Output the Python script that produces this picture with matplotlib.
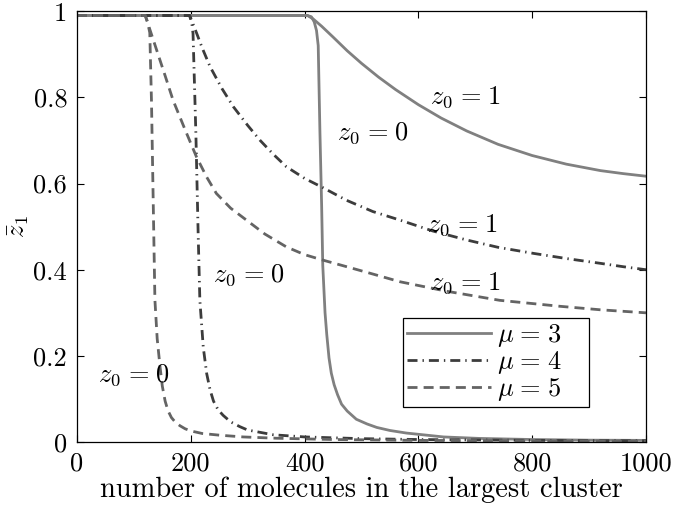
import matplotlib
matplotlib.use('Agg')
import numpy as np
from matplotlib import pyplot as plt

plt.rcParams['font.family'] = 'serif'
plt.rcParams['font.serif'] = ['cmr10']
plt.rcParams['mathtext.fontset'] = 'cm'
plt.rcParams['axes.formatter.use_mathtext'] = True

# mu = 3 (solid)
x_mu3_z1 = [0, 405, 415, 430, 450, 475, 500, 530, 560, 600, 640, 685, 740, 800, 860, 920, 960, 1000]
y_mu3_z1 = [0.99, 0.99, 0.982, 0.965, 0.94, 0.908, 0.879, 0.847, 0.818, 0.783, 0.752, 0.722, 0.691, 0.665, 0.645, 0.630, 0.623, 0.617]
x_mu3_z0 = [0, 405, 412, 417, 421, 424, 427, 430, 432, 436, 439, 443, 447, 452, 458, 465, 475, 491, 510, 527, 550, 579, 644, 708, 800, 900, 1000]
y_mu3_z0 = [0.99, 0.99, 0.987, 0.975, 0.955, 0.92, 0.72, 0.55, 0.41, 0.30, 0.25, 0.195, 0.16, 0.133, 0.11, 0.088, 0.072, 0.053, 0.042, 0.034, 0.027, 0.021, 0.012, 0.0085, 0.006, 0.0045, 0.004]

# mu = 4 (dash-dot)
x_mu4_z1 = [0, 198, 210, 220, 234, 255, 275, 300, 322, 345, 368, 400, 430, 474, 520, 568, 625, 685, 740, 802, 860, 919, 960, 1000]
y_mu4_z1 = [0.99, 0.99, 0.95, 0.915, 0.871, 0.82, 0.778, 0.735, 0.70, 0.668, 0.639, 0.612, 0.592, 0.561, 0.535, 0.515, 0.49, 0.469, 0.452, 0.438, 0.426, 0.415, 0.407, 0.40]
x_mu4_z0 = [0, 198, 202, 204, 209, 213, 216, 222, 228, 234, 240, 248, 257, 270, 286, 300, 345, 400, 500, 600, 800, 1000]
y_mu4_z0 = [0.99, 0.99, 0.97, 0.948, 0.716, 0.484, 0.329, 0.22, 0.159, 0.121, 0.095, 0.075, 0.062, 0.047, 0.036, 0.028, 0.017, 0.012, 0.008, 0.006, 0.004, 0.003]

# mu = 5 (dashed)
x_mu5_z1 = [0, 120, 130, 140, 155, 169, 190, 210, 228, 245, 270, 298, 330, 368, 400, 433, 474, 520, 568, 650, 743, 850, 920, 1000]
y_mu5_z1 = [0.99, 0.99, 0.95, 0.91, 0.85, 0.793, 0.725, 0.662, 0.615, 0.577, 0.543, 0.515, 0.483, 0.453, 0.435, 0.422, 0.407, 0.39, 0.372, 0.35, 0.329, 0.315, 0.307, 0.30]
x_mu5_z0 = [0, 120, 124, 128, 131, 134, 137, 141, 146, 150, 155, 160, 166, 173, 181, 190, 200, 220, 251, 292, 350, 450, 600, 800, 1000]
y_mu5_z0 = [0.99, 0.99, 0.975, 0.95, 0.79, 0.56, 0.33, 0.24, 0.175, 0.13, 0.095, 0.073, 0.057, 0.046, 0.038, 0.031, 0.026, 0.02, 0.016, 0.012, 0.009, 0.006, 0.004, 0.003, 0.002]

x_ticks = [0, 200, 400, 600, 800, 1000]
y_ticks = [0, 0.2, 0.4, 0.6, 0.8, 1]
y_ticklabels = ['0', '0.2', '0.4', '0.6', '0.8', '1']

# annotations: (text, x, y) left edge / vertical centre
labels = [(r'$z_0\hspace{0.1}=\hspace{0.1}1$', 620, 0.80),
          (r'$z_0\hspace{0.1}=\hspace{0.1}1$', 615, 0.503),
          (r'$z_0\hspace{0.1}=\hspace{0.1}1$', 620, 0.37),
          (r'$z_0\hspace{0.1}=\hspace{0.1}0$', 457, 0.717),
          (r'$z_0\hspace{0.1}=\hspace{0.1}0$', 239, 0.387),
          (r'$z_0\hspace{0.1}=\hspace{0.1}0$', 37, 0.155)]

c3 = '#808080'
c4 = '#3c3c3c'
c5 = '#646464'
lw = 2.0
FS = 19

fig = plt.figure(figsize=(6.75, 5.07), dpi=100)
ax = fig.add_subplot(111)
fig.subplots_adjust(left=0.114, right=0.957, bottom=0.128, top=0.978)

ax.plot(x_mu3_z1, y_mu3_z1, color=c3, lw=lw, label=r'$\mu\hspace{0.1}=\hspace{0.1}3$')
ax.plot(x_mu3_z0, y_mu3_z0, color=c3, lw=lw)
ax.plot(x_mu4_z1, y_mu4_z1, color=c4, lw=lw, dashes=(3.6, 1.8, 0.5, 1.8), label=r'$\mu\hspace{0.1}=\hspace{0.1}4$')
ax.plot(x_mu4_z0, y_mu4_z0, color=c4, lw=lw, dashes=(3.6, 1.8, 0.5, 1.8))
ax.plot(x_mu5_z1, y_mu5_z1, color=c5, lw=lw, dashes=(3.6, 2.2), label=r'$\mu\hspace{0.1}=\hspace{0.1}5$')
ax.plot(x_mu5_z0, y_mu5_z0, color=c5, lw=lw, dashes=(3.6, 2.2))

for txt, tx, ty in labels:
    ax.text(tx, ty, txt, fontsize=FS, ha='left', va='center')

ax.set_xlim(0, 1000)
ax.set_ylim(0, 1)
ax.set_xticks(x_ticks)
ax.set_xticklabels([str(v) for v in x_ticks])
ax.set_yticks(y_ticks)
ax.set_yticklabels(y_ticklabels)
ax.tick_params(direction='in', top=True, right=True, length=5, width=0.8,
               labelsize=FS, pad=7)
for sp in ax.spines.values():
    sp.set_linewidth(0.9)

ax.set_xlabel('number of molecules in the largest cluster', fontsize=20.5, labelpad=1)
ax.set_ylabel(r'$\bar{z}_1$', fontsize=FS, labelpad=2)

leg = ax.legend(loc='lower left', bbox_to_anchor=(0.573, 0.081, 0.327, 0.2), mode='expand',
                borderaxespad=0, fontsize=FS, fancybox=False, framealpha=1,
                edgecolor='black', handlelength=3.2, labelspacing=0.0, borderpad=0.15,
                handletextpad=0.2)
leg.get_frame().set_linewidth(0.9)

fig.savefig('out.png', dpi=100)
